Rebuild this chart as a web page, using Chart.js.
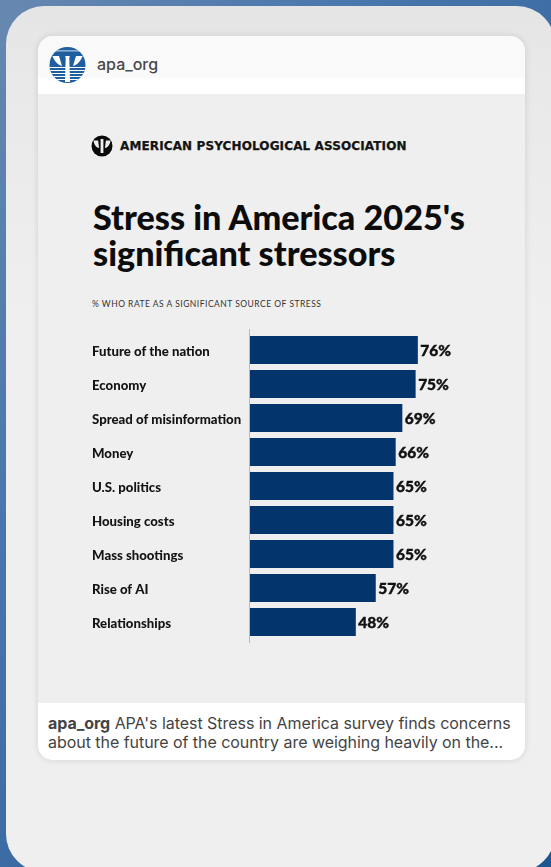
<!DOCTYPE html>
<html>
<head>
<meta charset="utf-8">
<style>
html, body { margin:0; padding:0; }
body { width:551px; height:867px; overflow:hidden; position:relative;
  background:linear-gradient(125deg, #6788b0 0%, #4a77ad 30%, #35659e 65%, #1d5792 100%); }
.abs { position:absolute; white-space:nowrap; }
#panel { position:absolute; left:6px; top:6px; width:549px; height:866px; border-radius:38px;
  background:linear-gradient(180deg, #e5e5e5 0, #e8e8e8 60px, #efefef 300px); }
#card { position:absolute; left:38px; top:36px; width:487px; height:724px; border-radius:15px; overflow:hidden;
  background:#efefef; }
#cardShadow { position:absolute; left:38px; top:36px; width:487px; height:724px; border-radius:15px;
  box-shadow:0 0 5px 2px rgba(0,0,0,.07); }
#head { position:absolute; left:0; top:0; width:100%; height:58px; background:linear-gradient(180deg, #f9f9f9 0, #fafafa 41px, #fff 43px); }
#foot { position:absolute; left:0; top:667px; width:100%; height:57px; background:#fff; }
#chart { position:absolute; left:92px; top:320px; }
</style>
</head>
<body>
<div id="panel"></div>
<div id="cardShadow"></div>
<div id="card"><div id="head"></div><div id="foot"></div></div>

<!-- round blue avatar -->
<svg class="abs" style="left:49px;top:46px" width="37" height="38" viewBox="0 0 37 38">
  <defs><clipPath id="disc"><circle cx="18.5" cy="19" r="18"/></clipPath></defs>
  <g clip-path="url(#disc)">
    <rect width="37" height="38" fill="#1f5f9f"/>
    <g fill="#fff">
      <rect y="4.500" width="37" height=".8"/>
      <rect y="21" width="37" height="1"/><rect y="24" width="37" height="1"/>
      <rect y="27" width="37" height="1"/><rect y="30" width="37" height="1"/><rect y="33" width="37" height="1"/>
      <path d="M16.200 10h4.600l-.5 2 .7 24h-5.000l.7-24z"/>
      <path d="M3.500 10h6.500l3 10c-4-1-8-5-9.500-10z"/>
      <path d="M33.500 10h-6.500l-3 10c4-1 8-5 9.500-10z"/>
    </g>
  </g>
</svg>
<div class="abs" style="left:97px;top:54px;font:500 16px/20px Inter;color:#484848">apa_org</div>

<!-- association mark and name -->
<svg class="abs" style="left:91px;top:135px" width="22" height="22" viewBox="0 0 22 22">
  <circle cx="11" cy="11" r="10.5" fill="#0b0b0b"/>
  <g fill="#efefef">
    <path d="M9.600 4h2.800v14H9.600z"/>
    <path d="M2.500 5.500h4.600l1 7.500C5 12.500 3 9.500 2.500 5.500z"/>
    <path d="M19.500 5.500h-4.600l-1 7.500c3.100-.5 5.100-3.500 5.600-7.500z"/>
  </g>
</svg>
<div class="abs" id="org" style="left:120px;top:139px;font:700 12px/15px 'DejaVu Sans';letter-spacing:.12px;color:#141414;-webkit-text-stroke:.25px #141414">AMERICAN PSYCHOLOGICAL ASSOCIATION</div>

<div class="abs" id="title" style="left:93px;top:199px;font:900 34.2px/36px Lato;color:#0c0c0c">Stress in America 2025's<br>significant stressors</div>
<div class="abs" id="sub" style="left:92px;top:298px;font:400 8.5px/12px Lato;letter-spacing:.49px;color:#333">% WHO RATE AS A SIGNIFICANT SOURCE OF STRESS</div>

<canvas id="chart" width="379" height="330"></canvas>

<div class="abs" style="left:48px;top:714px;font:400 16px/19px Inter;letter-spacing:-.045px;color:#444">
<b style="font-weight:700">apa_org</b> APA's latest Stress in America survey finds concerns<br>about the future of the country are weighing heavily on the...</div>

<script src="https://cdn.jsdelivr.net/npm/chart.js"></script>
<script>
var categories = ["Future of the nation", "Economy", "Spread of misinformation", "Money", "U.S. politics", "Housing costs", "Mass shootings", "Rise of AI", "Relationships"];
var shares = [76, 75, 69, 66, 65, 65, 65, 57, 48];
var barColor = "#03346c";

// baseline runs a little past the first and last bars
var baseline = {
    id:"baseline",
    afterDatasetsDraw:function(chart){
        var c = chart.ctx, a = chart.chartArea;
        c.save();
        c.strokeStyle = "#b9b9b9";
        c.lineWidth = 1;
        c.beginPath();
        c.moveTo(a.left, a.top-4);
        c.lineTo(a.left, a.bottom+4);
        c.stroke();
        c.restore();
    }
};

// percent label at the end of each bar, stroked a little to thicken the canvas text
var barLabels = {
    id:"barLabels",
    afterDatasetsDraw:function(chart){
        var c = chart.ctx;
        c.save();
        c.font = "900 15.5px Lato";
        c.fillStyle = "#111";
        c.strokeStyle = "#111";
        c.lineWidth = 0.4;
        c.textAlign = "left";
        c.textBaseline = "middle";
        chart.getDatasetMeta(0).data.forEach(function(bar, i){
            c.fillText(shares[i]+"%", bar.x+2.5, bar.y+1);
            c.strokeText(shares[i]+"%", bar.x+2.5, bar.y+1);
        });
        c.restore();
    }
};

var stressChart = new Chart(document.getElementById("chart"), {
    type:"bar",
    plugins:[baseline, barLabels],
    data:{
        labels:categories,
        datasets:[{
            data:shares,
            backgroundColor:barColor,
            barPercentage:0.824,
            categoryPercentage:1
        }]
    },
    options:{
        indexAxis:"y",
        responsive:false,
        animation:false,
        layout:{ padding:{ top:13, bottom:11, left:0, right:0 } },
        plugins:{ legend:{ display:false }, tooltip:{ enabled:false } },
        scales:{
            x:{ display:false, min:0, max:100 },
            y:{
                afterFit:function(axis){ axis.width = 157.5; },
                grid:{ display:false },
                border:{ display:false },
                ticks:{
                    crossAlign:"far",
                    padding:0,
                    labelOffset:2,
                    color:"#141414",
                    font:{ family:"Lato", weight:"900", size:13.2 }
                }
            }
        }
    }
});
</script>
</body>
</html>
